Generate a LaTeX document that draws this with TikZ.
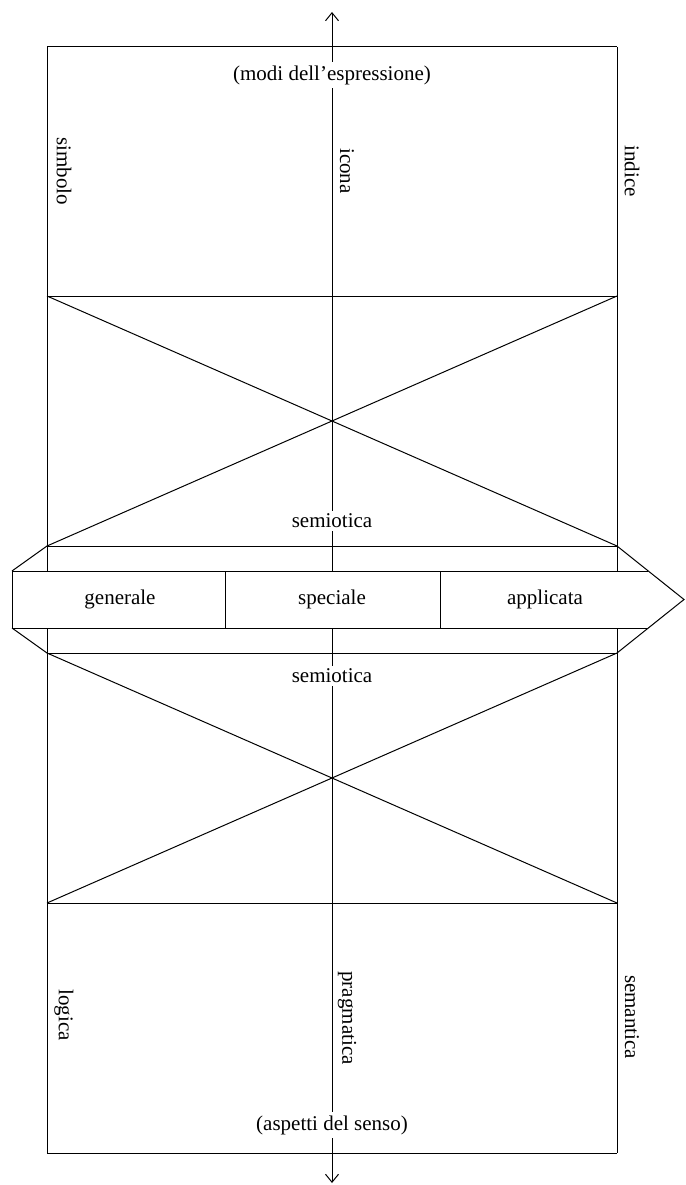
\documentclass[tikz,border=0pt]{standalone}
\usepackage{fontspec}
\setmainfont{Liberation Serif}
\usetikzlibrary{arrows.meta}
\begin{document}
\begin{tikzpicture}[x=1pt,y=-1pt,line width=1pt,
  lbl/.style={font=\fontsize{21}{25}\selectfont, inner sep=2pt},
  vlbl/.style={lbl, rotate=-90},
  gaplbl/.style={lbl, fill=white, inner sep=3pt},
  arr/.style={-{Straight Barb[length=8pt,width=13pt]}}]
\useasboundingbox (0,0) rectangle (685,1185);
% frame coordinates
\coordinate (tl) at (47,47);
\coordinate (tr) at (617,47);
\coordinate (bl) at (47,1153);
\coordinate (br) at (617,1153);
\coordinate (l1) at (47,296);   \coordinate (r1) at (617,296);
\coordinate (l2) at (47,546);   \coordinate (r2) at (617,546);
\coordinate (l3) at (47,653);   \coordinate (r3) at (617,653);
\coordinate (l4) at (47,903);   \coordinate (r4) at (617,903);
\coordinate (lbt) at (47,571);  \coordinate (rbt) at (617,571);
\coordinate (lbb) at (47,628);  \coordinate (rbb) at (617,628);
% band
\coordinate (bt0) at (12,571);  \coordinate (bb0) at (12,628);
\coordinate (bt1) at (225,571); \coordinate (bb1) at (225,628);
\coordinate (bt2) at (440,571); \coordinate (bb2) at (440,628);
\coordinate (bt3) at (648,571); \coordinate (bb3) at (648,628);
\coordinate (tip) at (684,599.5);
% axis
\coordinate (ctop) at (332,12);
\coordinate (cbt) at (332,571);
\coordinate (cbb) at (332,628);
\coordinate (cbot) at (332,1183);

% outer frame
\draw (tl) -- (tr);
\draw (bl) -- (br);
\draw (tl) -- (lbt);
\draw (lbb) -- (bl);
\draw (tr) -- (rbt);
\draw (rbb) -- (br);
% horizontals
\draw (l1) -- (r1);
\draw (l2) -- (r2);
\draw (l3) -- (r3);
\draw (l4) -- (r4);
% crosses
\draw (l1) -- (r2);
\draw (r1) -- (l2);
\draw (l3) -- (r4);
\draw (r3) -- (l4);
% band
\draw (bt0) -- (bt3);
\draw (bb0) -- (bb3);
\draw (bt0) -- (bb0);
\draw (bt1) -- (bb1);
\draw (bt2) -- (bb2);
\draw (l2) -- (bt0);
\draw (bb0) -- (l3);
\draw (r2) -- (tip) -- (r3);
% axis
\draw[arr] (cbt) -- (ctop);
\draw[arr] (cbb) -- (cbot);

% labels on the axis
\node[gaplbl] (modi) at (332,75) {(modi dell’espressione)};
\node[gaplbl] (sem1) at (332,521) {semiotica};
\node[gaplbl] (sem2) at (332,676) {semiotica};
\node[gaplbl] (asp) at (332,1125) {(aspetti del senso)};
% band labels
\node[lbl] (gen) at (120,599.5) {generale};
\node[lbl] (spe) at (332,599.5) {speciale};
\node[lbl] (app) at (545,599.5) {applicata};
% vertical labels
\node[vlbl] (simb) at (64,171) {simbolo};
\node[vlbl] (icon) at (347,171) {icona};
\node[vlbl] (indi) at (632,171) {indice};
\node[vlbl] (logi) at (64,1015) {logica};
\node[vlbl] (prag) at (347,1018) {pragmatica};
\node[vlbl] (sema) at (632,1017) {semantica};
\end{tikzpicture}
\end{document}
